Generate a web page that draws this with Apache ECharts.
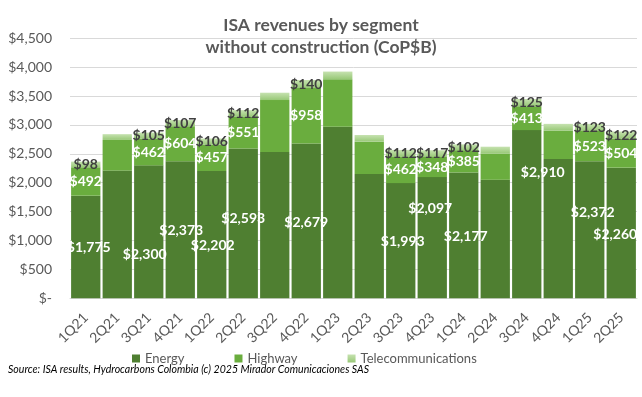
<!DOCTYPE html>
<html>
<head>
<meta charset="utf-8">
<script src="https://cdn.jsdelivr.net/npm/echarts@6/dist/echarts.min.js"></script>
<style>html,body{margin:0;padding:0;background:#fff;}#c{width:642px;height:397px;}</style>
</head>
<body>
<div id="c"></div>
<script>
const categories = ['1Q21','2Q21','3Q21','4Q21','1Q22','2Q22','3Q22','4Q22','1Q23','2Q23','3Q23','4Q23','1Q24','2Q24','3Q24','4Q24','1Q25','2Q25'];
const energy = [1775, 2210, 2300, 2373, 2202, 2593, 2530, 2679, 2970, 2150, 1993, 2097, 2177, 2050, 2910, 2410, 2372, 2260];
const highway = [492, 530, 462, 604, 457, 551, 900, 958, 820, 560, 462, 348, 385, 455, 413, 490, 523, 504];
const telecom = [98, 100, 105, 107, 106, 112, 127, 140, 133, 115, 112, 117, 102, 118, 125, 118, 123, 122];
const labelled = [true, false, true, true, true, true, false, true, false, false, true, true, true, false, true, false, true, true];
const yTicks = [0, 500, 1000, 1500, 2000, 2500, 3000, 3500, 4000, 4500];

// layout: manual offsets of energy labels (as placed in the original)
const energyLabelOffset = {0:[3,0],2:[-4,23],3:[1,1],4:[1,11],5:[0,-5],7:[0,2],10:[2,1],11:[-2,-29],12:[2,1],14:[16,-42],16:[3,-17],17:[-6,1]};

const FONT = 'Lato';
const fmt = v => '$' + Number(v).toLocaleString('en-US');

function mkData(vals, isEnergy) {
  return vals.map((v, i) => {
    const item = { value: v };
    if (!labelled[i]) item.label = { show: false };
    else if (isEnergy && energyLabelOffset[i]) item.label = { offset: energyLabelOffset[i] };
    return item;
  });
}

const chart = echarts.init(document.getElementById('c'), null, { renderer: 'canvas' });
const labelBase = { show: true, position: 'inside', fontFamily: FONT, fontWeight: 'bold', fontSize: 14, formatter: p => fmt(p.value) };

chart.setOption({
  animation: false,
  backgroundColor: '#fff',
  title: {
    text: 'ISA revenues by segment\nwithout construction (CoP$B)',
    left: 'center', top: 9,
    textStyle: { fontFamily: FONT, fontWeight: 'bold', fontSize: 17.5, color: '#595959', lineHeight: 22 }
  },
  legend: {
    left: 127, top: 347, itemWidth: 8, itemHeight: 8, itemGap: 50, icon: 'rect',
    textStyle: { fontFamily: FONT, fontSize: 13, color: '#595959' },
    data: ['Energy', 'Highway', 'Telecommunications']
  },
  graphic: [{
    type: 'text', left: 8, top: 363, scaleX: 0.88,
    style: { text: 'Source: ISA results, Hydrocarbons Colombia (c) 2025 Mirador Comunicaciones SAS', font: 'italic 12px ' + FONT, fill: '#000' }
  }],
  grid: { left: 70, right: 5, top: 38.2, bottom: 98.7, containLabel: false },
  xAxis: {
    type: 'category', data: categories,
    axisLine: { show: true, lineStyle: { color: '#d9d9d9' } },
    axisTick: { show: false },
    axisLabel: { rotate: 45, fontFamily: FONT, fontSize: 14, color: '#595959', margin: 17, interval: 0 }
  },
  yAxis: {
    type: 'value', min: yTicks[0], max: yTicks[yTicks.length - 1], interval: 500,
    axisLine: { show: false }, axisTick: { show: false },
    splitLine: { lineStyle: { color: '#d9d9d9', width: 1 } },
    axisLabel: { fontFamily: FONT, fontSize: 14, color: '#595959', margin: 18, formatter: v => v === 0 ? '$-' : fmt(v) }
  },
  series: [
    { name: 'Energy', type: 'bar', stack: 'a', barCategoryGap: '7%', data: mkData(energy, true),
      itemStyle: { color: '#4f7f31' }, label: Object.assign({}, labelBase, { color: '#fff' }) },
    { name: 'Highway', type: 'bar', stack: 'a', data: mkData(highway, false),
      itemStyle: { color: '#6aad3e' }, label: Object.assign({}, labelBase, { color: '#fff' }) },
    { name: 'Telecommunications', type: 'bar', stack: 'a', data: mkData(telecom, false),
      itemStyle: { color: new echarts.graphic.LinearGradient(0, 0, 0, 1, [{ offset: 0, color: '#c6e2b0' }, { offset: 1, color: '#98c877' }]) },
      label: Object.assign({}, labelBase, { color: '#404040' }) }
  ]
});
</script>
</body>
</html>
